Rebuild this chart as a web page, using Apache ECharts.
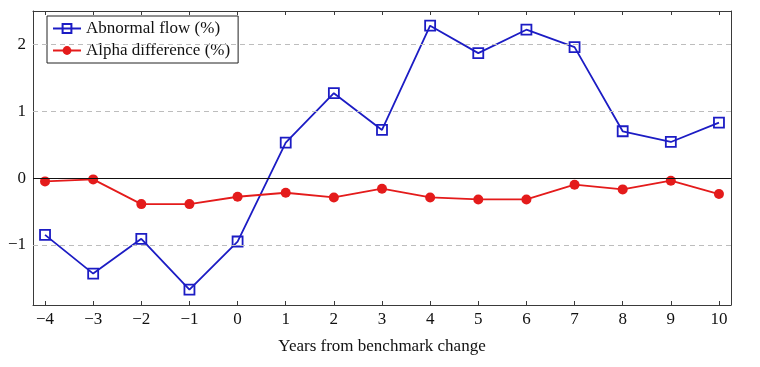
<!DOCTYPE html>
<html><head><meta charset="utf-8">
<script src="https://cdn.jsdelivr.net/npm/echarts@6/dist/echarts.min.js"></script>
<style>html,body{margin:0;padding:0;background:#fff}#c{width:760px;height:367px}</style>
</head><body><div id="c"></div>
<script>
const years = [-4,-3,-2,-1,0,1,2,3,4,5,6,7,8,9,10];
const abnormalFlow = [-0.85,-1.43,-0.91,-1.67,-0.95,0.53,1.27,0.72,2.28,1.87,2.22,1.96,0.70,0.54,0.83];
const alphaDiff = [-0.05,-0.02,-0.39,-0.39,-0.28,-0.22,-0.29,-0.16,-0.29,-0.32,-0.32,-0.10,-0.17,-0.04,-0.24];
const yTicks = [-1,0,1,2];
const dashedGrid = [-1,1,2];
const xTitle = 'Years from benchmark change';
const names = ['Abnormal flow (%)','Alpha difference (%)'];

const FONT = 'Liberation Serif';
const BLUE = '#1c1cc4', RED = '#e41b1b', FRAME = '#3a3a3a';
const fmt = v => (v < 0 ? '\u2212' + Math.abs(v) : String(v));

const chart = echarts.init(document.getElementById('c'), null, {renderer:'canvas'});
const xBase = {type:'value', min:-4.25, max:10.25, splitLine:{show:false},
  axisLine:{onZero:false,lineStyle:{color:FRAME,width:1}},
  axisTick:{inside:true,length:4,customValues:years,lineStyle:{color:FRAME}}};
const yBase = {type:'value', min:-1.9, max:2.5, splitLine:{show:false},
  axisLine:{show:true,onZero:false,lineStyle:{color:FRAME,width:1}},
  axisTick:{show:true,inside:true,length:4,customValues:yTicks,lineStyle:{color:FRAME}}};
chart.setOption({
  animation:false,
  backgroundColor:'#fff',
  grid:{left:33,right:29,top:11,bottom:62,containLabel:false},
  legend:{
    left:47, top:16, orient:'vertical', itemGap:5, itemWidth:28, itemHeight:11,
    padding:[4,8,4,5], borderColor:'#222', borderWidth:1, backgroundColor:'#fff',
    textStyle:{fontFamily:FONT,fontSize:17,color:'#111'},
    data:names
  },
  xAxis:[
    Object.assign({}, xBase, {position:'bottom',
      axisLabel:{customValues:years,formatter:fmt,fontFamily:FONT,fontSize:17,color:'#111',margin:6},
      name:xTitle, nameLocation:'middle', nameGap:33,
      nameTextStyle:{fontFamily:FONT,fontSize:17,color:'#111'}}),
    Object.assign({}, xBase, {position:'top',axisLabel:{show:false}})
  ],
  yAxis:[
    Object.assign({}, yBase, {position:'left',
      axisLabel:{customValues:yTicks,formatter:fmt,fontFamily:FONT,fontSize:17,color:'#111',margin:7}}),
    Object.assign({}, yBase, {position:'right',axisLabel:{show:false}})
  ],
  series:[
    {type:'line', name:'grid', data:[], silent:true, z:1,
     markLine:{symbol:'none',silent:true,label:{show:false},
       data:dashedGrid.map(v=>({yAxis:v,lineStyle:{color:'#bdbdbd',type:[5,4],width:1}}))
         .concat([{yAxis:0,lineStyle:{color:'#111',type:'solid',width:1.2}}])}},
    {type:'line', name:names[0], data:years.map((x,i)=>[x,abnormalFlow[i]]),
     symbol:'rect', symbolSize:10, showAllSymbol:true, z:3,
     lineStyle:{color:BLUE,width:1.8},
     itemStyle:{color:'rgba(255,255,255,0)',borderColor:BLUE,borderWidth:1.8}},
    {type:'line', name:names[1], data:years.map((x,i)=>[x,alphaDiff[i]]),
     symbol:'circle', symbolSize:10, showAllSymbol:true, z:4,
     lineStyle:{color:RED,width:1.8},
     itemStyle:{color:RED}}
  ]
});
</script></body></html>
